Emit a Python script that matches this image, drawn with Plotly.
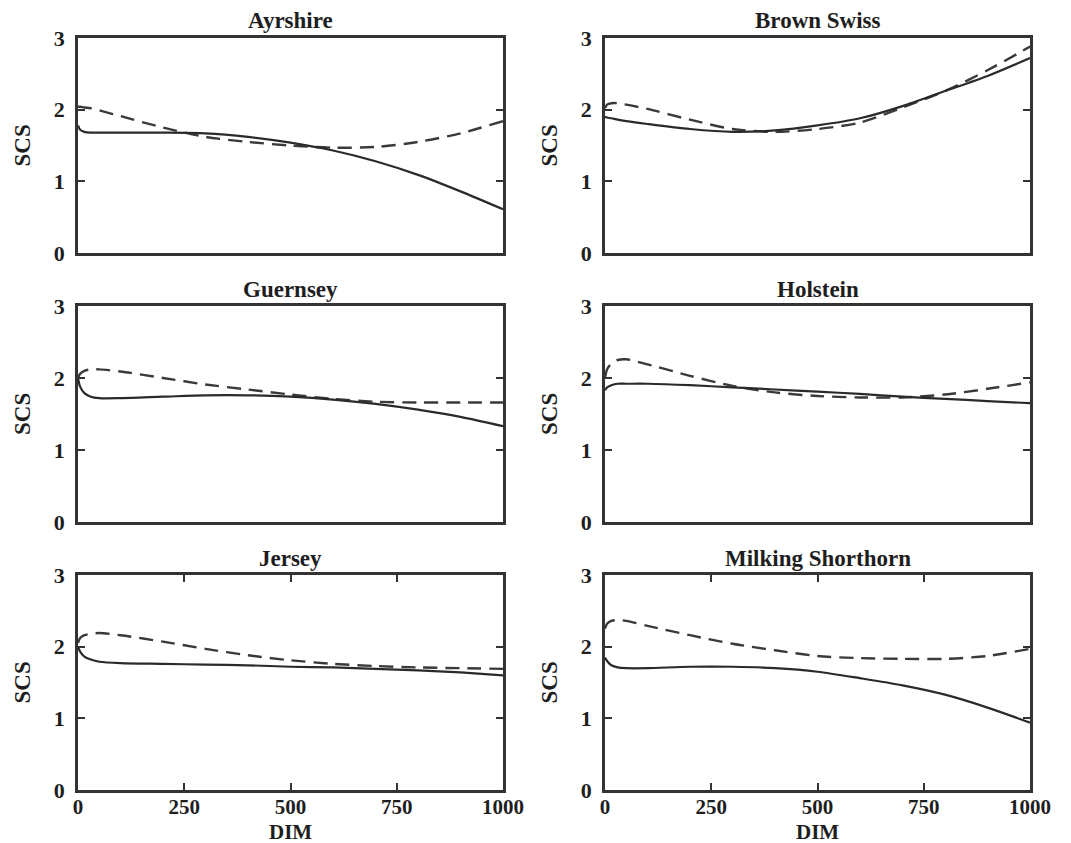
import plotly.graph_objects as go

# ---- data ----
dim = [0, 5, 15, 30, 50, 100, 200, 300, 400, 500, 600, 700, 800, 900, 1000]

breeds = ["Ayrshire", "Brown Swiss", "Guernsey", "Holstein", "Jersey", "Milking Shorthorn"]

ayrshire_solid = [1.78, 1.72, 1.69, 1.68, 1.68, 1.68, 1.68, 1.67, 1.62, 1.54, 1.43, 1.28, 1.09, 0.86, 0.61]
ayrshire_dash = [2.04, 2.04, 2.03, 2.02, 1.99, 1.91, 1.75, 1.62, 1.55, 1.50, 1.47, 1.48, 1.55, 1.67, 1.84]

brownswiss_solid = [1.90, 1.89, 1.88, 1.86, 1.84, 1.80, 1.73, 1.69, 1.71, 1.78, 1.88, 2.05, 2.26, 2.47, 2.72]
brownswiss_dash = [2.02, 2.07, 2.09, 2.09, 2.07, 2.01, 1.86, 1.73, 1.69, 1.73, 1.82, 2.03, 2.26, 2.55, 2.88]

guernsey_solid = [2.00, 1.88, 1.79, 1.74, 1.72, 1.72, 1.74, 1.76, 1.76, 1.74, 1.70, 1.64, 1.56, 1.46, 1.33]
guernsey_dash = [2.00, 2.06, 2.10, 2.12, 2.12, 2.09, 2.00, 1.91, 1.84, 1.77, 1.71, 1.67, 1.66, 1.66, 1.66]

holstein_solid = [1.83, 1.87, 1.90, 1.92, 1.92, 1.92, 1.90, 1.87, 1.84, 1.81, 1.78, 1.74, 1.71, 1.68, 1.65]
holstein_dash = [2.00, 2.12, 2.20, 2.25, 2.26, 2.19, 2.03, 1.89, 1.80, 1.75, 1.73, 1.73, 1.77, 1.85, 1.94]

jersey_solid = [2.00, 1.93, 1.86, 1.82, 1.79, 1.77, 1.76, 1.75, 1.74, 1.72, 1.71, 1.69, 1.67, 1.64, 1.60]
jersey_dash = [2.05, 2.12, 2.16, 2.18, 2.19, 2.16, 2.07, 1.97, 1.88, 1.81, 1.76, 1.73, 1.71, 1.70, 1.69]

shorthorn_solid = [1.85, 1.80, 1.74, 1.71, 1.70, 1.70, 1.72, 1.72, 1.70, 1.65, 1.56, 1.46, 1.33, 1.15, 0.94]
shorthorn_dash = [2.25, 2.32, 2.36, 2.37, 2.36, 2.29, 2.16, 2.04, 1.95, 1.87, 1.84, 1.83, 1.83, 1.87, 1.97]

solid_series = [ayrshire_solid, brownswiss_solid, guernsey_solid, holstein_solid, jersey_solid, shorthorn_solid]
dash_series = [ayrshire_dash, brownswiss_dash, guernsey_dash, holstein_dash, jersey_dash, shorthorn_dash]

x_ticks = [0, 250, 500, 750, 1000]
y_ticks = [0, 1, 2, 3]

# ---- layout geometry (screen pixels; page body has an 8px margin) ----
OFF = 8
W, H = 1071 - OFF, 843 - OFF
col_px = [(78, 503), (605, 1030)]
row_px = [(38, 253), (306, 522), (575, 790)]


def px_x(v):
    return (v - OFF) / W


def px_y(v):
    return 1 - (v - OFF) / H


FONT = "Liberation Serif"
TXT = "#1e1e1e"
LINE = "#333333"
TICK_SIZE = 22
LABEL_SIZE = 23

fig = go.Figure()
layout = dict(
    width=W, height=H,
    margin=dict(l=0, r=0, t=0, b=0, autoexpand=False),
    paper_bgcolor="white", plot_bgcolor="white",
    showlegend=False,
    font=dict(family=FONT, size=TICK_SIZE, color=TXT, weight="bold"),
)
annotations = []

for i, name in enumerate(breeds):
    r, c = divmod(i, 2)
    ax = "" if i == 0 else str(i + 1)
    x0, x1 = col_px[c]
    y0, y1 = row_px[r]
    xd = [px_x(x0), px_x(x1)]
    yd = [px_y(y1), px_y(y0)]
    bottom = (r == 2)
    layout["xaxis" + ax] = dict(
        domain=xd, range=[0, 1000], anchor="y" + ax, automargin=False,
        showline=True, linewidth=2.5, linecolor=LINE,
        mirror="ticks" if bottom else True,
        ticks="inside" if bottom else "", ticklen=7, tickwidth=1.5, tickcolor=LINE,
        tickvals=x_ticks, showticklabels=bottom, showgrid=False, zeroline=False,
        tickfont=dict(family=FONT, size=21, color=TXT, weight="bold"),
        ticklabelstandoff=-4,
    )
    layout["yaxis" + ax] = dict(
        domain=yd, range=[0, 3], anchor="x" + ax, automargin=False,
        showline=True, linewidth=2.5, linecolor=LINE, mirror="ticks",
        ticks="inside", ticklen=7, tickwidth=1.5, tickcolor=LINE,
        tickvals=y_ticks, showgrid=False, zeroline=False,
        tickfont=dict(family=FONT, size=TICK_SIZE, color=TXT, weight="bold"),
        ticklabelstandoff=6,
    )
    fig.add_trace(go.Scatter(
        x=dim, y=dash_series[i], mode="lines", xaxis="x" + ax, yaxis="y" + ax,
        line=dict(color="#3a3a3a", width=2.4, dash="14px,8px", shape="spline", smoothing=0.8),
        hoverinfo="skip"))
    fig.add_trace(go.Scatter(
        x=dim, y=solid_series[i], mode="lines", xaxis="x" + ax, yaxis="y" + ax,
        line=dict(color="#2a2a2a", width=2.2, shape="spline", smoothing=0.8),
        hoverinfo="skip"))
    # subplot title
    annotations.append(dict(
        text=name, xref="paper", yref="paper",
        x=px_x((x0 + x1) / 2), y=px_y(y0 - 17), xanchor="center", yanchor="middle",
        showarrow=False, font=dict(family=FONT, size=LABEL_SIZE, color=TXT, weight="bold")))
    # y axis label
    annotations.append(dict(
        text="SCS", xref="paper", yref="paper", textangle=-90,
        x=px_x(22 if c == 0 else 549), y=px_y((y0 + y1) / 2),
        xanchor="center", yanchor="middle", showarrow=False,
        font=dict(family=FONT, size=LABEL_SIZE, color=TXT, weight="bold")))
    if bottom:
        annotations.append(dict(
            text="DIM", xref="paper", yref="paper",
            x=px_x((x0 + x1) / 2), y=px_y(832), xanchor="center", yanchor="middle",
            showarrow=False, font=dict(family=FONT, size=21, color=TXT, weight="bold")))

layout["annotations"] = annotations
fig.update_layout(**layout)
fig.write_html("out.html")
